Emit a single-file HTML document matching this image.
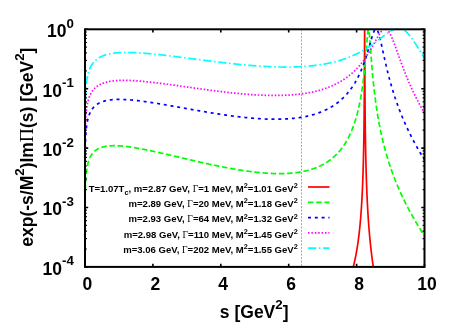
<!DOCTYPE html>
<html><head><meta charset="utf-8"><title>plot</title>
<style>
html,body{margin:0;padding:0;background:#fff;}
body{width:467px;height:327px;overflow:hidden;}
svg{display:block;will-change:transform;}
text{font-family:"Liberation Sans",sans-serif;font-weight:bold;fill:#000;}
.sym{font-family:"Liberation Serif",serif;font-weight:normal;}
</style></head><body>
<svg width="467" height="327" viewBox="0 0 467 327">
<rect x="0" y="0" width="467" height="327" fill="#ffffff"/>
<defs><clipPath id="cp"><rect x="85.00" y="29.30" width="339.50" height="237.60"/></clipPath></defs>
<line x1="301.5" y1="29.30" x2="301.5" y2="266.90" stroke="#a6a6a6" stroke-width="1" stroke-dasharray="2 1.4"/>
<g clip-path="url(#cp)" fill="none" stroke-width="1.7" stroke-linejoin="round">
<path d="M353.12 266.90 L353.35 266.52 L353.48 266.02 L353.60 265.52 L353.73 265.01 L353.86 264.50 L353.99 263.97 L354.11 263.44 L354.24 262.91 L354.37 262.36 L354.48 261.87 L354.59 261.37 L354.71 260.87 L354.82 260.35 L354.93 259.84 L355.05 259.31 L355.16 258.78 L355.27 258.24 L355.39 257.69 L355.50 257.14 L355.61 256.57 L355.73 256.00 L355.82 255.50 L355.92 254.98 L356.02 254.46 L356.12 253.94 L356.22 253.41 L356.32 252.86 L356.42 252.32 L356.52 251.76 L356.62 251.20 L356.72 250.63 L356.82 250.05 L356.91 249.46 L357.01 248.87 L357.10 248.35 L357.18 247.83 L357.27 247.30 L357.35 246.76 L357.44 246.21 L357.52 245.66 L357.61 245.10 L357.69 244.54 L357.78 243.96 L357.86 243.38 L357.95 242.79 L358.03 242.19 L358.12 241.59 L358.20 240.97 L358.29 240.35 L358.37 239.71 L358.44 239.18 L358.51 238.63 L358.58 238.09 L358.65 237.53 L358.73 236.97 L358.80 236.40 L358.87 235.82 L358.94 235.23 L359.01 234.64 L359.08 234.04 L359.15 233.43 L359.22 232.81 L359.29 232.18 L359.36 231.55 L359.43 230.90 L359.50 230.24 L359.57 229.58 L359.64 228.90 L359.70 228.36 L359.76 227.80 L359.81 227.24 L359.87 226.67 L359.93 226.10 L359.98 225.52 L360.04 224.92 L360.10 224.33 L360.15 223.72 L360.21 223.11 L360.27 222.48 L360.32 221.85 L360.38 221.21 L360.44 220.56 L360.49 219.90 L360.55 219.24 L360.61 218.56 L360.66 217.87 L360.72 217.17 L360.78 216.46 L360.83 215.74 L360.89 215.01 L360.95 214.27 L360.99 213.70 L361.03 213.13 L361.07 212.55 L361.12 211.96 L361.16 211.37 L361.20 210.77 L361.24 210.16 L361.29 209.54 L361.33 208.91 L361.37 208.28 L361.41 207.63 L361.46 206.98 L361.50 206.32 L361.54 205.65 L361.58 204.97 L361.63 204.28 L361.67 203.58 L361.71 202.87 L361.75 202.15 L361.80 201.42 L361.84 200.67 L361.88 199.92 L361.92 199.15 L361.96 198.37 L362.01 197.57 L362.05 196.77 L362.09 195.95 L362.13 195.11 L362.18 194.26 L362.21 193.69 L362.23 193.11 L362.26 192.52 L362.29 191.92 L362.32 191.32 L362.35 190.71 L362.38 190.09 L362.40 189.46 L362.43 188.83 L362.46 188.18 L362.49 187.53 L362.52 186.87 L362.55 186.20 L362.57 185.52 L362.60 184.83 L362.63 184.13 L362.66 183.43 L362.69 182.71 L362.71 181.98 L362.74 181.24 L362.77 180.48 L362.80 179.72 L362.83 178.94 L362.86 178.16 L362.88 177.35 L362.91 176.54 L362.94 175.71 L362.97 174.87 L363.00 174.01 L363.03 173.14 L363.05 172.25 L363.08 171.35 L363.11 170.43 L363.14 169.49 L363.17 168.53 L363.20 167.56 L363.22 166.56 L363.25 165.55 L363.28 164.51 L363.31 163.46 L363.34 162.38 L363.37 161.27 L363.39 160.14 L363.42 158.99 L363.44 158.40 L363.45 157.80 L363.46 157.20 L363.48 156.59 L363.49 155.98 L363.51 155.35 L363.52 154.72 L363.54 154.08 L363.55 153.43 L363.56 152.78 L363.58 152.11 L363.59 151.44 L363.61 150.75 L363.62 150.06 L363.63 149.36 L363.65 148.64 L363.66 147.92 L363.68 147.19 L363.69 146.45 L363.71 145.69 L363.72 144.92 L363.73 144.15 L363.75 143.36 L363.76 142.55 L363.78 141.74 L363.79 140.91 L363.80 140.07 L363.82 139.21 L363.83 138.34 L363.85 137.46 L363.86 136.56 L363.88 135.64 L363.89 134.70 L363.90 133.75 L363.92 132.78 L363.93 131.79 L363.95 130.79 L363.96 129.76 L363.97 128.71 L363.99 127.64 L364.00 126.55 L364.02 125.43 L364.03 124.29 L364.04 123.13 L364.06 121.93 L364.07 120.71 L364.09 119.46 L364.10 118.18 L364.12 116.87 L364.13 115.53 L364.14 114.14 L364.16 112.73 L364.17 111.27 L364.19 109.77 L364.20 108.23 L364.21 106.64 L364.23 105.01 L364.24 103.32 L364.26 101.58 L364.27 99.78 L364.29 97.92 L364.30 96.00 L364.31 94.00 L364.33 91.94 L364.34 89.79 L364.36 87.56 L364.37 85.25 L364.38 82.83 L364.40 80.32 L364.41 77.69 L364.43 74.96 L364.44 72.09 L364.46 69.11 L364.47 65.99 L364.48 62.73 L364.50 59.34 L364.51 55.82 L364.53 52.19 L364.54 48.49 L364.55 44.75 L364.57 41.08 L364.58 37.59 L364.60 34.46 L364.61 31.89 L364.62 30.11 L364.64 29.30 L364.67 30.87 L364.68 33.07 L364.70 35.96 L364.71 39.30 L364.72 42.91 L364.74 46.65 L364.75 50.40 L364.77 54.09 L364.78 57.69 L364.79 61.17 L364.81 64.52 L364.82 67.73 L364.84 70.81 L364.85 73.75 L364.87 76.58 L364.88 79.28 L364.89 81.87 L364.91 84.36 L364.92 86.75 L364.94 89.04 L364.95 91.25 L364.96 93.38 L364.98 95.43 L364.99 97.41 L365.01 99.32 L365.02 101.17 L365.04 102.96 L365.05 104.70 L365.06 106.38 L365.08 108.01 L365.09 109.60 L365.11 111.14 L365.12 112.64 L365.13 114.09 L365.15 115.51 L365.16 116.90 L365.18 118.25 L365.19 119.57 L365.20 120.85 L365.22 122.11 L365.23 123.33 L365.25 124.53 L365.26 125.71 L365.28 126.86 L365.29 127.98 L365.30 129.08 L365.32 130.16 L365.33 131.22 L365.35 132.26 L365.36 133.28 L365.37 134.28 L365.39 135.26 L365.40 136.22 L365.42 137.17 L365.43 138.10 L365.45 139.01 L365.46 139.91 L365.47 140.79 L365.49 141.66 L365.50 142.52 L365.52 143.36 L365.53 144.19 L365.54 145.01 L365.56 145.81 L365.57 146.60 L365.59 147.38 L365.60 148.15 L365.62 148.91 L365.63 149.66 L365.64 150.40 L365.66 151.12 L365.67 151.84 L365.69 152.55 L365.70 153.25 L365.71 153.94 L365.73 154.62 L365.74 155.29 L365.76 155.96 L365.77 156.61 L365.79 157.26 L365.80 157.90 L365.81 158.53 L365.83 159.16 L365.84 159.78 L365.86 160.39 L365.87 160.99 L365.88 161.59 L365.90 162.18 L365.93 163.35 L365.95 164.49 L365.98 165.60 L366.01 166.69 L366.04 167.76 L366.07 168.81 L366.10 169.84 L366.12 170.85 L366.15 171.85 L366.18 172.82 L366.21 173.78 L366.24 174.72 L366.27 175.64 L366.29 176.55 L366.32 177.44 L366.35 178.32 L366.38 179.19 L366.41 180.04 L366.44 180.88 L366.46 181.70 L366.49 182.51 L366.52 183.31 L366.55 184.10 L366.58 184.88 L366.61 185.65 L366.63 186.41 L366.66 187.15 L366.69 187.89 L366.72 188.62 L366.75 189.33 L366.78 190.04 L366.80 190.74 L366.83 191.43 L366.86 192.11 L366.89 192.78 L366.92 193.45 L366.95 194.10 L366.97 194.75 L367.00 195.40 L367.03 196.03 L367.06 196.66 L367.09 197.28 L367.11 197.89 L367.14 198.50 L367.17 199.10 L367.20 199.69 L367.23 200.28 L367.26 200.86 L367.28 201.43 L367.33 202.28 L367.37 203.12 L367.41 203.95 L367.45 204.76 L367.50 205.56 L367.54 206.35 L367.58 207.13 L367.62 207.90 L367.67 208.66 L367.71 209.41 L367.75 210.15 L367.79 210.88 L367.84 211.60 L367.88 212.31 L367.92 213.01 L367.96 213.70 L368.01 214.39 L368.05 215.06 L368.09 215.73 L368.13 216.39 L368.18 217.04 L368.22 217.69 L368.26 218.33 L368.30 218.96 L368.35 219.58 L368.39 220.20 L368.43 220.81 L368.47 221.42 L368.52 222.02 L368.56 222.61 L368.60 223.19 L368.64 223.77 L368.69 224.35 L368.73 224.92 L368.77 225.48 L368.81 226.04 L368.87 226.77 L368.93 227.50 L368.98 228.21 L369.04 228.92 L369.10 229.62 L369.15 230.31 L369.21 231.00 L369.27 231.67 L369.32 232.34 L369.38 233.00 L369.44 233.65 L369.49 234.30 L369.55 234.94 L369.61 235.57 L369.66 236.19 L369.72 236.81 L369.77 237.42 L369.83 238.03 L369.89 238.63 L369.94 239.22 L370.00 239.81 L370.06 240.39 L370.11 240.97 L370.17 241.54 L370.23 242.10 L370.28 242.66 L370.34 243.22 L370.40 243.77 L370.45 244.31 L370.52 244.99 L370.60 245.65 L370.67 246.31 L370.74 246.97 L370.81 247.61 L370.88 248.25 L370.95 248.88 L371.02 249.51 L371.09 250.13 L371.16 250.74 L371.23 251.35 L371.30 251.95 L371.37 252.54 L371.44 253.13 L371.52 253.71 L371.59 254.29 L371.66 254.87 L371.73 255.43 L371.80 256.00 L371.87 256.55 L371.94 257.11 L372.01 257.65 L372.08 258.20 L372.15 258.74 L372.22 259.27 L372.31 259.90 L372.39 260.53 L372.48 261.15 L372.56 261.77 L372.65 262.38 L372.73 262.98 L372.82 263.58 L372.90 264.18 L372.99 264.76 L373.07 265.35 L373.16 265.92 L373.24 266.49 L373.37 266.90" stroke="#ff0000"/>
<path d="M85.03 223.32 L85.05 214.40 L85.08 209.19 L85.10 205.49 L85.13 202.62 L85.15 200.28 L85.18 198.31 L85.20 196.60 L85.23 195.09 L85.26 193.74 L85.28 192.53 L85.31 191.42 L85.33 190.39 L85.36 189.45 L85.38 188.57 L85.41 187.75 L85.43 186.98 L85.46 186.26 L85.49 185.57 L85.51 184.92 L85.54 184.30 L85.56 183.72 L85.61 182.62 L85.66 181.61 L85.71 180.68 L85.77 179.81 L85.82 179.00 L85.87 178.24 L85.92 177.53 L85.97 176.85 L86.02 176.22 L86.07 175.61 L86.12 175.03 L86.17 174.48 L86.25 173.71 L86.33 172.97 L86.40 172.29 L86.48 171.64 L86.56 171.02 L86.63 170.44 L86.71 169.88 L86.79 169.35 L86.89 168.68 L86.99 168.05 L87.09 167.45 L87.20 166.89 L87.30 166.35 L87.40 165.83 L87.53 165.22 L87.65 164.65 L87.78 164.10 L87.91 163.58 L88.04 163.08 L88.19 162.52 L88.34 161.99 L88.50 161.48 L88.65 161.00 L88.80 160.54 L88.98 160.03 L89.16 159.54 L89.34 159.08 L89.52 158.64 L89.72 158.17 L89.93 157.72 L90.13 157.29 L90.34 156.88 L90.56 156.44 L90.79 156.02 L91.02 155.63 L91.25 155.25 L91.51 154.85 L91.76 154.47 L92.02 154.11 L92.30 153.73 L92.58 153.37 L92.86 153.03 L93.14 152.71 L93.45 152.37 L93.76 152.05 L94.06 151.75 L94.39 151.44 L94.73 151.14 L95.06 150.86 L95.80 150.28 L96.41 149.85 L97.02 149.45 L97.64 149.09 L98.25 148.76 L98.86 148.45 L99.47 148.17 L100.09 147.91 L100.70 147.68 L101.31 147.46 L101.92 147.26 L102.54 147.08 L103.15 146.91 L103.76 146.76 L104.37 146.62 L104.99 146.49 L105.60 146.38 L106.21 146.27 L106.83 146.18 L107.44 146.10 L108.05 146.02 L108.66 145.96 L109.28 145.90 L109.89 145.85 L110.50 145.81 L111.11 145.78 L111.73 145.75 L112.34 145.73 L112.95 145.72 L113.56 145.71 L114.18 145.70 L114.79 145.71 L115.40 145.71 L116.01 145.73 L116.63 145.74 L117.24 145.76 L117.85 145.79 L118.47 145.82 L119.08 145.86 L119.69 145.89 L120.30 145.94 L120.92 145.98 L121.53 146.03 L122.14 146.08 L122.75 146.14 L123.37 146.20 L123.98 146.26 L124.59 146.32 L125.20 146.39 L125.82 146.46 L126.43 146.53 L127.04 146.61 L127.65 146.68 L128.27 146.76 L128.88 146.84 L129.49 146.93 L130.11 147.01 L130.72 147.10 L131.33 147.19 L131.94 147.28 L132.56 147.38 L133.17 147.47 L133.78 147.57 L134.39 147.67 L135.01 147.77 L135.62 147.87 L136.23 147.98 L136.84 148.08 L137.46 148.19 L138.07 148.30 L138.68 148.41 L139.29 148.52 L139.91 148.63 L140.52 148.74 L141.13 148.86 L141.75 148.97 L142.36 149.09 L142.97 149.21 L143.58 149.33 L144.20 149.45 L144.81 149.57 L145.42 149.69 L146.03 149.81 L146.65 149.93 L147.26 150.06 L147.87 150.19 L148.48 150.31 L149.10 150.44 L149.71 150.57 L150.32 150.69 L150.93 150.82 L151.55 150.95 L152.16 151.09 L152.77 151.22 L153.38 151.35 L154.00 151.48 L154.61 151.61 L155.22 151.75 L155.84 151.88 L156.45 152.02 L157.06 152.15 L157.67 152.29 L158.29 152.43 L158.90 152.56 L159.51 152.70 L160.12 152.84 L160.74 152.98 L161.35 153.11 L161.96 153.25 L162.57 153.39 L163.19 153.53 L163.80 153.67 L164.41 153.81 L165.03 153.95 L165.64 154.09 L166.25 154.24 L166.86 154.38 L167.48 154.52 L168.09 154.66 L168.70 154.80 L169.31 154.95 L169.93 155.09 L170.54 155.23 L171.15 155.37 L171.76 155.52 L172.38 155.66 L172.99 155.80 L173.60 155.95 L174.21 156.09 L174.83 156.23 L175.44 156.38 L176.05 156.52 L176.67 156.67 L177.28 156.81 L177.89 156.95 L178.50 157.10 L179.12 157.24 L179.73 157.38 L180.34 157.53 L180.95 157.67 L181.57 157.82 L182.18 157.96 L182.79 158.10 L183.40 158.25 L184.02 158.39 L184.63 158.54 L185.24 158.68 L185.85 158.82 L186.47 158.97 L187.08 159.11 L187.69 159.25 L188.31 159.40 L188.92 159.54 L189.53 159.68 L190.14 159.82 L190.76 159.97 L191.37 160.11 L191.98 160.25 L192.59 160.39 L193.21 160.53 L193.82 160.68 L194.43 160.82 L195.04 160.96 L195.66 161.10 L196.27 161.24 L196.88 161.38 L197.49 161.52 L198.11 161.66 L198.72 161.80 L199.33 161.94 L199.94 162.08 L200.56 162.22 L201.17 162.35 L201.78 162.49 L202.40 162.63 L203.01 162.77 L203.62 162.90 L204.23 163.04 L204.85 163.17 L205.46 163.31 L206.07 163.45 L206.68 163.58 L207.30 163.71 L207.91 163.85 L208.52 163.98 L209.13 164.12 L209.75 164.25 L210.36 164.38 L210.97 164.51 L211.59 164.64 L212.20 164.77 L212.81 164.90 L213.42 165.03 L214.04 165.16 L214.65 165.29 L215.26 165.42 L215.87 165.55 L216.49 165.68 L217.10 165.80 L217.71 165.93 L218.32 166.05 L218.94 166.18 L219.55 166.30 L220.16 166.43 L220.77 166.55 L221.39 166.67 L222.00 166.79 L222.61 166.92 L223.23 167.04 L223.84 167.16 L224.45 167.27 L225.06 167.39 L225.68 167.51 L226.29 167.63 L226.90 167.74 L227.51 167.86 L228.13 167.98 L228.74 168.09 L229.35 168.20 L229.96 168.32 L230.58 168.43 L231.19 168.54 L231.80 168.65 L232.41 168.76 L233.03 168.87 L233.64 168.97 L234.25 169.08 L234.87 169.19 L235.48 169.29 L236.09 169.40 L236.70 169.50 L237.32 169.60 L237.93 169.71 L238.54 169.81 L239.15 169.91 L239.77 170.00 L240.38 170.10 L240.99 170.20 L241.60 170.30 L242.22 170.39 L242.83 170.48 L243.44 170.58 L244.05 170.67 L244.67 170.76 L245.28 170.85 L245.89 170.94 L246.51 171.03 L247.12 171.11 L247.73 171.20 L248.34 171.28 L248.96 171.36 L249.57 171.45 L250.18 171.53 L250.79 171.61 L251.41 171.68 L252.02 171.76 L252.63 171.84 L253.24 171.91 L253.86 171.98 L254.47 172.06 L255.08 172.13 L255.69 172.20 L256.31 172.26 L256.92 172.33 L257.53 172.40 L258.15 172.46 L258.76 172.52 L259.37 172.58 L259.98 172.64 L260.60 172.70 L261.21 172.76 L261.82 172.81 L262.43 172.86 L263.05 172.92 L263.66 172.97 L264.27 173.01 L264.88 173.06 L265.50 173.11 L266.11 173.15 L266.72 173.19 L267.33 173.23 L267.95 173.27 L268.56 173.31 L269.17 173.34 L269.79 173.38 L270.40 173.41 L271.01 173.44 L271.62 173.46 L272.24 173.49 L272.85 173.51 L273.46 173.53 L274.07 173.55 L274.69 173.57 L275.30 173.59 L275.91 173.60 L276.52 173.61 L277.14 173.62 L277.75 173.63 L278.36 173.63 L278.97 173.63 L279.59 173.63 L280.20 173.63 L280.81 173.63 L281.43 173.62 L282.04 173.61 L282.65 173.60 L283.26 173.59 L283.88 173.57 L284.49 173.55 L285.10 173.53 L285.71 173.50 L286.33 173.48 L286.94 173.45 L287.55 173.41 L288.16 173.38 L288.78 173.34 L289.39 173.30 L290.00 173.25 L290.61 173.21 L291.23 173.16 L291.84 173.10 L292.45 173.05 L293.07 172.99 L293.68 172.92 L294.29 172.86 L294.90 172.79 L295.52 172.71 L296.13 172.63 L296.74 172.55 L297.35 172.47 L297.97 172.38 L298.58 172.29 L299.19 172.20 L299.80 172.10 L300.42 171.99 L301.03 171.88 L301.64 171.77 L302.25 171.66 L302.87 171.54 L303.48 171.41 L304.09 171.28 L304.71 171.15 L305.32 171.01 L305.93 170.87 L306.54 170.72 L307.16 170.57 L307.77 170.41 L308.38 170.25 L308.99 170.08 L309.61 169.91 L310.22 169.73 L310.83 169.54 L311.44 169.35 L312.06 169.16 L312.67 168.96 L313.28 168.75 L313.89 168.53 L314.51 168.31 L315.12 168.09 L315.73 167.85 L316.35 167.61 L316.96 167.37 L317.57 167.11 L318.18 166.85 L318.80 166.58 L319.41 166.30 L320.02 166.02 L320.63 165.72 L321.25 165.42 L321.86 165.11 L322.47 164.79 L323.08 164.47 L323.70 164.13 L324.31 163.78 L324.92 163.43 L325.53 163.06 L326.15 162.68 L326.76 162.30 L327.37 161.90 L327.99 161.49 L328.60 161.07 L329.21 160.63 L329.82 160.19 L330.44 159.73 L331.05 159.26 L331.66 158.78 L332.27 158.28 L332.89 157.76 L333.50 157.23 L334.11 156.69 L334.72 156.13 L335.34 155.55 L335.95 154.96 L336.56 154.35 L337.17 153.72 L337.79 153.07 L338.40 152.40 L339.01 151.71 L339.62 150.99 L339.91 150.66 L340.19 150.32 L340.47 149.97 L340.74 149.63 L341.01 149.29 L341.28 148.95 L341.55 148.60 L341.82 148.25 L342.09 147.89 L342.36 147.53 L342.61 147.18 L342.86 146.82 L343.12 146.46 L343.37 146.10 L343.63 145.73 L343.88 145.35 L344.14 144.97 L344.38 144.61 L344.62 144.24 L344.86 143.86 L345.10 143.48 L345.34 143.10 L345.58 142.71 L345.82 142.31 L346.05 141.93 L346.27 141.55 L346.50 141.16 L346.73 140.77 L346.95 140.37 L347.18 139.96 L347.41 139.55 L347.62 139.16 L347.83 138.77 L348.04 138.37 L348.26 137.96 L348.47 137.55 L348.68 137.14 L348.89 136.71 L349.10 136.28 L349.30 135.88 L349.50 135.47 L349.70 135.05 L349.90 134.63 L350.09 134.21 L350.29 133.77 L350.49 133.34 L350.69 132.89 L350.87 132.47 L351.06 132.05 L351.24 131.62 L351.42 131.19 L351.61 130.75 L351.79 130.30 L351.98 129.85 L352.16 129.39 L352.34 128.92 L352.51 128.49 L352.68 128.05 L352.85 127.61 L353.02 127.15 L353.19 126.70 L353.36 126.23 L353.53 125.76 L353.70 125.29 L353.87 124.81 L354.03 124.36 L354.18 123.91 L354.34 123.45 L354.49 122.98 L354.65 122.51 L354.81 122.04 L354.96 121.55 L355.12 121.06 L355.27 120.57 L355.43 120.06 L355.57 119.60 L355.71 119.13 L355.85 118.66 L355.99 118.18 L356.14 117.69 L356.28 117.20 L356.42 116.70 L356.56 116.20 L356.70 115.68 L356.84 115.17 L356.97 114.69 L357.10 114.21 L357.23 113.73 L357.35 113.24 L357.48 112.74 L357.61 112.24 L357.73 111.73 L357.86 111.22 L357.99 110.69 L358.12 110.17 L358.24 109.63 L358.37 109.09 L358.48 108.60 L358.60 108.10 L358.71 107.60 L358.82 107.10 L358.94 106.58 L359.05 106.07 L359.16 105.54 L359.28 105.01 L359.39 104.47 L359.50 103.92 L359.62 103.37 L359.73 102.81 L359.84 102.24 L359.94 101.74 L360.04 101.23 L360.14 100.72 L360.24 100.20 L360.34 99.67 L360.44 99.14 L360.54 98.60 L360.64 98.05 L360.73 97.50 L360.83 96.94 L360.93 96.38 L361.03 95.80 L361.13 95.22 L361.23 94.63 L361.33 94.04 L361.41 93.52 L361.50 93.00 L361.58 92.47 L361.67 91.93 L361.75 91.39 L361.84 90.84 L361.92 90.29 L362.01 89.73 L362.09 89.16 L362.18 88.59 L362.26 88.01 L362.35 87.42 L362.43 86.83 L362.52 86.22 L362.60 85.61 L362.69 85.00 L362.77 84.37 L362.86 83.74 L362.93 83.21 L363.00 82.67 L363.07 82.12 L363.14 81.57 L363.21 81.01 L363.28 80.45 L363.35 79.88 L363.42 79.30 L363.49 78.72 L363.56 78.13 L363.63 77.54 L363.71 76.94 L363.78 76.33 L363.85 75.71 L363.92 75.09 L363.99 74.46 L364.06 73.82 L364.13 73.18 L364.20 72.53 L364.27 71.87 L364.34 71.20 L364.41 70.53 L364.47 69.98 L364.53 69.43 L364.58 68.88 L364.64 68.32 L364.70 67.75 L364.75 67.18 L364.81 66.61 L364.87 66.02 L364.92 65.44 L364.98 64.85 L365.04 64.25 L365.09 63.65 L365.15 63.04 L365.20 62.43 L365.26 61.81 L365.32 61.18 L365.37 60.55 L365.43 59.92 L365.49 59.28 L365.54 58.64 L365.60 57.99 L365.66 57.33 L365.71 56.67 L365.77 56.01 L365.83 55.34 L365.88 54.66 L365.94 53.98 L366.00 53.30 L366.05 52.61 L366.11 51.92 L366.17 51.23 L366.22 50.53 L366.28 49.83 L366.34 49.12 L366.39 48.42 L366.45 47.71 L366.51 47.00 L366.56 46.29 L366.62 45.58 L366.68 44.87 L366.73 44.16 L366.79 43.45 L366.85 42.75 L366.90 42.05 L366.96 41.35 L367.02 40.66 L367.07 39.98 L367.13 39.30 L367.19 38.63 L367.24 37.98 L367.30 37.33 L367.36 36.70 L367.41 36.08 L367.47 35.48 L367.53 34.89 L367.58 34.32 L367.64 33.78 L367.71 33.13 L367.78 32.52 L367.85 31.96 L367.94 31.34 L368.02 30.79 L368.12 30.25 L368.25 29.73 L368.44 29.32 L368.73 29.64 L368.86 30.13 L368.95 30.64 L369.04 31.18 L369.12 31.80 L369.19 32.37 L369.27 32.99 L369.34 33.65 L369.39 34.22 L369.45 34.80 L369.51 35.41 L369.56 36.04 L369.62 36.69 L369.68 37.36 L369.73 38.05 L369.79 38.75 L369.85 39.46 L369.90 40.18 L369.96 40.92 L370.02 41.66 L370.06 42.22 L370.10 42.79 L370.14 43.36 L370.19 43.93 L370.23 44.51 L370.27 45.09 L370.31 45.67 L370.35 46.25 L370.40 46.83 L370.44 47.41 L370.48 48.00 L370.52 48.58 L370.57 49.16 L370.61 49.75 L370.65 50.33 L370.69 50.91 L370.74 51.49 L370.78 52.07 L370.82 52.65 L370.86 53.23 L370.91 53.80 L370.95 54.37 L370.99 54.94 L371.03 55.51 L371.08 56.08 L371.12 56.65 L371.16 57.21 L371.20 57.77 L371.26 58.51 L371.32 59.25 L371.37 59.98 L371.43 60.71 L371.49 61.43 L371.54 62.15 L371.60 62.87 L371.66 63.57 L371.71 64.28 L371.77 64.97 L371.83 65.67 L371.88 66.35 L371.94 67.03 L372.00 67.71 L372.05 68.38 L372.11 69.05 L372.17 69.71 L372.22 70.36 L372.28 71.01 L372.34 71.66 L372.39 72.29 L372.45 72.93 L372.51 73.56 L372.56 74.18 L372.62 74.80 L372.68 75.41 L372.73 76.02 L372.79 76.62 L372.84 77.22 L372.90 77.82 L372.96 78.40 L373.01 78.99 L373.07 79.57 L373.13 80.14 L373.18 80.71 L373.24 81.28 L373.30 81.84 L373.35 82.40 L373.41 82.95 L373.47 83.50 L373.52 84.04 L373.59 84.71 L373.67 85.38 L373.74 86.04 L373.81 86.70 L373.88 87.35 L373.95 87.99 L374.02 88.62 L374.09 89.26 L374.16 89.88 L374.23 90.50 L374.30 91.11 L374.37 91.72 L374.44 92.32 L374.51 92.92 L374.59 93.51 L374.66 94.10 L374.73 94.68 L374.80 95.26 L374.87 95.83 L374.94 96.39 L375.01 96.96 L375.08 97.51 L375.15 98.07 L375.22 98.61 L375.29 99.16 L375.36 99.70 L375.43 100.23 L375.50 100.76 L375.59 101.39 L375.67 102.02 L375.76 102.64 L375.84 103.25 L375.93 103.86 L376.01 104.46 L376.10 105.06 L376.18 105.65 L376.27 106.23 L376.35 106.82 L376.44 107.39 L376.52 107.96 L376.61 108.53 L376.69 109.09 L376.78 109.65 L376.86 110.20 L376.95 110.75 L377.03 111.29 L377.12 111.83 L377.20 112.36 L377.29 112.89 L377.37 113.42 L377.46 113.94 L377.54 114.46 L377.64 115.06 L377.74 115.65 L377.84 116.24 L377.94 116.82 L378.04 117.40 L378.14 117.97 L378.24 118.54 L378.33 119.11 L378.43 119.66 L378.53 120.22 L378.63 120.77 L378.73 121.31 L378.83 121.86 L378.93 122.39 L379.03 122.92 L379.13 123.45 L379.23 123.98 L379.32 124.50 L379.42 125.01 L379.52 125.53 L379.62 126.04 L379.72 126.54 L379.82 127.04 L379.93 127.61 L380.05 128.17 L380.16 128.73 L380.27 129.29 L380.39 129.84 L380.50 130.38 L380.61 130.93 L380.73 131.46 L380.84 132.00 L380.95 132.52 L381.07 133.05 L381.18 133.57 L381.29 134.09 L381.40 134.60 L381.52 135.11 L381.63 135.62 L381.74 136.12 L381.86 136.62 L381.97 137.12 L382.08 137.61 L382.20 138.10 L382.32 138.64 L382.45 139.19 L382.58 139.72 L382.71 140.26 L382.83 140.79 L382.96 141.31 L383.09 141.83 L383.22 142.35 L383.34 142.87 L383.47 143.38 L383.60 143.89 L383.72 144.39 L383.85 144.89 L383.98 145.39 L384.11 145.88 L384.23 146.37 L384.36 146.86 L384.49 147.34 L384.62 147.82 L384.74 148.30 L384.87 148.78 L385.01 149.30 L385.15 149.82 L385.30 150.34 L385.44 150.85 L385.58 151.36 L385.72 151.87 L385.86 152.37 L386.00 152.87 L386.14 153.37 L386.29 153.86 L386.43 154.35 L386.57 154.84 L386.71 155.32 L386.85 155.80 L386.99 156.28 L387.13 156.75 L387.28 157.23 L387.42 157.69 L387.56 158.16 L387.70 158.62 L387.84 159.09 L388.00 159.59 L388.15 160.09 L388.31 160.59 L388.46 161.08 L388.62 161.57 L388.78 162.06 L388.93 162.55 L389.09 163.03 L389.24 163.51 L389.40 163.99 L389.55 164.46 L389.71 164.93 L389.87 165.40 L390.02 165.86 L390.18 166.33 L390.33 166.79 L390.49 167.25 L390.64 167.70 L390.80 168.15 L390.95 168.61 L391.11 169.05 L391.27 169.50 L391.44 169.98 L391.61 170.46 L391.78 170.94 L391.95 171.42 L392.11 171.89 L392.28 172.36 L392.45 172.83 L392.62 173.29 L392.79 173.75 L392.96 174.21 L393.13 174.67 L393.30 175.13 L393.47 175.58 L393.64 176.03 L393.81 176.48 L393.98 176.92 L394.15 177.37 L394.32 177.81 L394.49 178.25 L394.66 178.68 L394.83 179.12 L395.00 179.55 L395.17 179.98 L395.35 180.45 L395.54 180.91 L395.72 181.37 L395.91 181.82 L396.09 182.28 L396.27 182.73 L396.46 183.18 L396.64 183.63 L396.83 184.07 L397.01 184.52 L397.19 184.96 L397.38 185.40 L397.56 185.84 L397.75 186.27 L397.93 186.71 L398.11 187.14 L398.30 187.57 L398.48 187.99 L398.67 188.42 L398.85 188.84 L399.03 189.27 L399.22 189.69 L399.40 190.10 L399.59 190.52 L399.78 190.97 L399.98 191.41 L400.18 191.85 L400.38 192.29 L400.58 192.73 L400.77 193.17 L400.97 193.60 L401.17 194.03 L401.37 194.47 L401.57 194.89 L401.76 195.32 L401.96 195.75 L402.16 196.17 L402.36 196.59 L402.56 197.01 L402.75 197.43 L402.95 197.85 L403.15 198.26 L403.35 198.67 L403.55 199.08 L403.74 199.49 L403.94 199.90 L404.14 200.31 L404.34 200.71 L404.54 201.12 L404.75 201.55 L404.96 201.98 L405.17 202.40 L405.39 202.83 L405.60 203.25 L405.81 203.68 L406.02 204.10 L406.23 204.51 L406.45 204.93 L406.66 205.35 L406.87 205.76 L407.08 206.17 L407.30 206.58 L407.51 206.99 L407.72 207.40 L407.93 207.81 L408.14 208.21 L408.36 208.62 L408.57 209.02 L408.78 209.42 L408.99 209.82 L409.21 210.21 L409.42 210.61 L409.63 211.01 L409.84 211.40 L410.05 211.79 L410.27 212.18 L410.48 212.57 L410.69 212.96 L410.92 213.37 L411.14 213.78 L411.37 214.19 L411.60 214.60 L411.82 215.01 L412.05 215.41 L412.28 215.82 L412.50 216.22 L412.73 216.62 L412.96 217.02 L413.18 217.42 L413.41 217.82 L413.63 218.21 L413.86 218.61 L414.09 219.00 L414.31 219.39 L414.54 219.79 L414.77 220.17 L414.99 220.56 L415.22 220.95 L415.45 221.34 L415.67 221.72 L415.90 222.11 L416.12 222.49 L416.35 222.87 L416.58 223.25 L416.80 223.63 L417.03 224.01 L417.26 224.38 L417.48 224.76 L417.71 225.13 L417.94 225.51 L418.18 225.90 L418.42 226.30 L418.66 226.69 L418.90 227.08 L419.14 227.48 L419.38 227.87 L419.62 228.25 L419.86 228.64 L420.10 229.03 L420.34 229.41 L420.58 229.80 L420.82 230.18 L421.06 230.56 L421.30 230.94 L421.54 231.32 L421.78 231.70 L422.02 232.08 L422.26 232.46 L422.51 232.83 L422.75 233.21 L422.99 233.58 L423.23 233.96 L423.47 234.33 L423.71 234.70 L423.95 235.07 L424.19 235.44 L424.43 235.81 L424.50 235.91" stroke="#00ff00" stroke-dasharray="5.5 2.7"/>
<path d="M85.00 264.42 L85.03 178.99 L85.05 170.07 L85.08 164.85 L85.10 161.15 L85.13 158.29 L85.15 155.95 L85.18 153.97 L85.20 152.26 L85.23 150.75 L85.26 149.40 L85.28 148.18 L85.31 147.07 L85.33 146.05 L85.36 145.10 L85.38 144.22 L85.41 143.40 L85.43 142.63 L85.46 141.90 L85.49 141.21 L85.51 140.56 L85.54 139.94 L85.56 139.35 L85.61 138.25 L85.66 137.24 L85.71 136.30 L85.77 135.43 L85.82 134.62 L85.87 133.86 L85.92 133.14 L85.97 132.47 L86.02 131.83 L86.07 131.22 L86.12 130.64 L86.17 130.08 L86.25 129.30 L86.33 128.56 L86.40 127.87 L86.48 127.22 L86.56 126.60 L86.63 126.01 L86.71 125.45 L86.79 124.91 L86.89 124.24 L86.99 123.60 L87.09 122.99 L87.20 122.42 L87.30 121.88 L87.40 121.35 L87.53 120.74 L87.65 120.15 L87.78 119.60 L87.91 119.07 L88.04 118.57 L88.17 118.09 L88.32 117.54 L88.47 117.02 L88.62 116.52 L88.78 116.05 L88.93 115.60 L89.11 115.09 L89.29 114.62 L89.47 114.16 L89.65 113.73 L89.85 113.25 L90.05 112.80 L90.26 112.37 L90.46 111.96 L90.69 111.52 L90.92 111.10 L91.15 110.70 L91.38 110.32 L91.64 109.91 L91.89 109.53 L92.15 109.16 L92.40 108.81 L92.68 108.44 L92.96 108.09 L93.25 107.75 L93.53 107.43 L93.83 107.10 L94.14 106.78 L94.44 106.47 L94.78 106.16 L95.11 105.86 L95.80 105.28 L96.41 104.81 L97.02 104.37 L97.64 103.97 L98.25 103.60 L98.86 103.26 L99.47 102.94 L100.09 102.64 L100.70 102.37 L101.31 102.11 L101.92 101.88 L102.54 101.66 L103.15 101.45 L103.76 101.26 L104.37 101.08 L104.99 100.92 L105.60 100.77 L106.21 100.63 L106.83 100.49 L107.44 100.37 L108.05 100.26 L108.66 100.16 L109.28 100.06 L109.89 99.98 L110.50 99.90 L111.11 99.83 L111.73 99.76 L112.34 99.70 L112.95 99.65 L113.56 99.61 L114.18 99.56 L114.79 99.53 L115.40 99.50 L116.01 99.47 L116.63 99.45 L117.24 99.44 L117.85 99.43 L118.47 99.42 L119.08 99.42 L119.69 99.42 L120.30 99.42 L120.92 99.43 L121.53 99.44 L122.14 99.46 L122.75 99.47 L123.37 99.49 L123.98 99.52 L124.59 99.55 L125.20 99.58 L125.82 99.61 L126.43 99.64 L127.04 99.68 L127.65 99.72 L128.27 99.76 L128.88 99.81 L129.49 99.85 L130.11 99.90 L130.72 99.95 L131.33 100.01 L131.94 100.06 L132.56 100.12 L133.17 100.18 L133.78 100.24 L134.39 100.30 L135.01 100.36 L135.62 100.43 L136.23 100.49 L136.84 100.56 L137.46 100.63 L138.07 100.70 L138.68 100.78 L139.29 100.85 L139.91 100.93 L140.52 101.00 L141.13 101.08 L141.75 101.16 L142.36 101.24 L142.97 101.32 L143.58 101.40 L144.20 101.49 L144.81 101.57 L145.42 101.66 L146.03 101.74 L146.65 101.83 L147.26 101.92 L147.87 102.01 L148.48 102.10 L149.10 102.19 L149.71 102.28 L150.32 102.37 L150.93 102.46 L151.55 102.56 L152.16 102.65 L152.77 102.75 L153.38 102.84 L154.00 102.94 L154.61 103.04 L155.22 103.14 L155.84 103.23 L156.45 103.33 L157.06 103.43 L157.67 103.53 L158.29 103.63 L158.90 103.73 L159.51 103.84 L160.12 103.94 L160.74 104.04 L161.35 104.14 L161.96 104.25 L162.57 104.35 L163.19 104.45 L163.80 104.56 L164.41 104.66 L165.03 104.77 L165.64 104.87 L166.25 104.98 L166.86 105.08 L167.48 105.19 L168.09 105.30 L168.70 105.40 L169.31 105.51 L169.93 105.62 L170.54 105.73 L171.15 105.83 L171.76 105.94 L172.38 106.05 L172.99 106.16 L173.60 106.27 L174.21 106.37 L174.83 106.48 L175.44 106.59 L176.05 106.70 L176.67 106.81 L177.28 106.92 L177.89 107.03 L178.50 107.14 L179.12 107.25 L179.73 107.36 L180.34 107.47 L180.95 107.58 L181.57 107.68 L182.18 107.79 L182.79 107.90 L183.40 108.01 L184.02 108.12 L184.63 108.23 L185.24 108.34 L185.85 108.45 L186.47 108.56 L187.08 108.67 L187.69 108.78 L188.31 108.89 L188.92 109.00 L189.53 109.11 L190.14 109.21 L190.76 109.32 L191.37 109.43 L191.98 109.54 L192.59 109.65 L193.21 109.76 L193.82 109.86 L194.43 109.97 L195.04 110.08 L195.66 110.19 L196.27 110.29 L196.88 110.40 L197.49 110.51 L198.11 110.61 L198.72 110.72 L199.33 110.83 L199.94 110.93 L200.56 111.04 L201.17 111.14 L201.78 111.25 L202.40 111.35 L203.01 111.46 L203.62 111.56 L204.23 111.67 L204.85 111.77 L205.46 111.87 L206.07 111.98 L206.68 112.08 L207.30 112.18 L207.91 112.28 L208.52 112.38 L209.13 112.49 L209.75 112.59 L210.36 112.69 L210.97 112.79 L211.59 112.89 L212.20 112.99 L212.81 113.09 L213.42 113.18 L214.04 113.28 L214.65 113.38 L215.26 113.48 L215.87 113.57 L216.49 113.67 L217.10 113.76 L217.71 113.86 L218.32 113.95 L218.94 114.05 L219.55 114.14 L220.16 114.24 L220.77 114.33 L221.39 114.42 L222.00 114.51 L222.61 114.60 L223.23 114.69 L223.84 114.78 L224.45 114.87 L225.06 114.96 L225.68 115.05 L226.29 115.14 L226.90 115.22 L227.51 115.31 L228.13 115.40 L228.74 115.48 L229.35 115.57 L229.96 115.65 L230.58 115.73 L231.19 115.81 L231.80 115.90 L232.41 115.98 L233.03 116.06 L233.64 116.14 L234.25 116.22 L234.87 116.29 L235.48 116.37 L236.09 116.45 L236.70 116.52 L237.32 116.60 L237.93 116.67 L238.54 116.75 L239.15 116.82 L239.77 116.89 L240.38 116.96 L240.99 117.03 L241.60 117.10 L242.22 117.17 L242.83 117.24 L243.44 117.31 L244.05 117.37 L244.67 117.44 L245.28 117.50 L245.89 117.56 L246.51 117.63 L247.12 117.69 L247.73 117.75 L248.34 117.81 L248.96 117.86 L249.57 117.92 L250.18 117.98 L250.79 118.03 L251.41 118.09 L252.02 118.14 L252.63 118.19 L253.24 118.24 L253.86 118.29 L254.47 118.34 L255.08 118.39 L255.69 118.44 L256.31 118.48 L256.92 118.53 L257.53 118.57 L258.15 118.61 L258.76 118.65 L259.37 118.69 L259.98 118.73 L260.60 118.77 L261.21 118.80 L261.82 118.84 L262.43 118.87 L263.05 118.90 L263.66 118.93 L264.27 118.96 L264.88 118.99 L265.50 119.01 L266.11 119.04 L266.72 119.06 L267.33 119.08 L267.95 119.10 L268.56 119.12 L269.17 119.14 L269.79 119.16 L270.40 119.17 L271.01 119.18 L271.62 119.20 L272.24 119.20 L272.85 119.21 L273.46 119.22 L274.07 119.22 L274.69 119.23 L275.30 119.23 L275.91 119.23 L276.52 119.23 L277.14 119.22 L277.75 119.22 L278.36 119.21 L278.97 119.20 L279.59 119.19 L280.20 119.17 L280.81 119.16 L281.43 119.14 L282.04 119.12 L282.65 119.10 L283.26 119.08 L283.88 119.05 L284.49 119.02 L285.10 119.00 L285.71 118.96 L286.33 118.93 L286.94 118.89 L287.55 118.85 L288.16 118.81 L288.78 118.77 L289.39 118.73 L290.00 118.68 L290.61 118.63 L291.23 118.57 L291.84 118.52 L292.45 118.46 L293.07 118.40 L293.68 118.34 L294.29 118.27 L294.90 118.20 L295.52 118.13 L296.13 118.06 L296.74 117.98 L297.35 117.90 L297.97 117.82 L298.58 117.73 L299.19 117.65 L299.80 117.55 L300.42 117.46 L301.03 117.36 L301.64 117.26 L302.25 117.15 L302.87 117.05 L303.48 116.94 L304.09 116.82 L304.71 116.70 L305.32 116.58 L305.93 116.46 L306.54 116.33 L307.16 116.19 L307.77 116.06 L308.38 115.92 L308.99 115.77 L309.61 115.62 L310.22 115.47 L310.83 115.31 L311.44 115.15 L312.06 114.98 L312.67 114.81 L313.28 114.64 L313.89 114.46 L314.51 114.28 L315.12 114.09 L315.73 113.89 L316.35 113.69 L316.96 113.49 L317.57 113.28 L318.18 113.07 L318.80 112.85 L319.41 112.62 L320.02 112.39 L320.63 112.15 L321.25 111.91 L321.86 111.66 L322.47 111.41 L323.08 111.15 L323.70 110.88 L324.31 110.60 L324.92 110.32 L325.53 110.04 L326.15 109.74 L326.76 109.44 L327.37 109.13 L327.99 108.81 L328.60 108.49 L329.21 108.15 L329.82 107.81 L330.44 107.46 L331.05 107.10 L331.66 106.74 L332.27 106.36 L332.89 105.98 L333.50 105.58 L334.11 105.18 L334.72 104.76 L335.34 104.34 L335.95 103.90 L336.56 103.46 L337.17 103.00 L337.79 102.53 L338.40 102.05 L339.01 101.56 L339.62 101.05 L339.96 100.76 L340.29 100.49 L340.62 100.20 L340.94 99.92 L341.27 99.63 L341.59 99.34 L341.92 99.04 L342.24 98.74 L342.55 98.44 L342.86 98.15 L343.18 97.85 L343.49 97.54 L343.80 97.23 L344.11 96.92 L344.42 96.60 L344.72 96.30 L345.02 95.99 L345.31 95.67 L345.61 95.35 L345.91 95.03 L346.20 94.70 L346.50 94.37 L346.78 94.05 L347.07 93.73 L347.35 93.40 L347.63 93.07 L347.92 92.73 L348.20 92.39 L348.48 92.04 L348.75 91.71 L349.02 91.37 L349.29 91.03 L349.56 90.69 L349.83 90.34 L350.09 89.98 L350.36 89.63 L350.63 89.26 L350.89 88.91 L351.14 88.56 L351.40 88.20 L351.65 87.84 L351.91 87.48 L352.16 87.11 L352.41 86.73 L352.67 86.35 L352.91 85.99 L353.15 85.62 L353.39 85.25 L353.63 84.87 L353.87 84.49 L354.11 84.11 L354.35 83.72 L354.59 83.32 L354.82 82.95 L355.05 82.57 L355.27 82.18 L355.50 81.79 L355.73 81.40 L355.95 81.00 L356.18 80.59 L356.40 80.19 L356.63 79.77 L356.84 79.38 L357.06 78.98 L357.27 78.58 L357.48 78.18 L357.69 77.77 L357.90 77.35 L358.12 76.93 L358.33 76.51 L358.54 76.08 L358.74 75.67 L358.94 75.26 L359.14 74.85 L359.33 74.43 L359.53 74.01 L359.73 73.58 L359.93 73.15 L360.13 72.71 L360.32 72.27 L360.52 71.82 L360.71 71.40 L360.89 70.98 L361.07 70.55 L361.26 70.11 L361.44 69.68 L361.63 69.23 L361.81 68.79 L361.99 68.34 L362.18 67.88 L362.36 67.42 L362.55 66.95 L362.71 66.52 L362.88 66.08 L363.05 65.64 L363.22 65.19 L363.39 64.74 L363.56 64.28 L363.73 63.82 L363.90 63.36 L364.07 62.89 L364.24 62.42 L364.41 61.94 L364.58 61.46 L364.74 61.01 L364.89 60.56 L365.05 60.11 L365.20 59.65 L365.36 59.19 L365.52 58.72 L365.67 58.25 L365.83 57.78 L365.98 57.30 L366.14 56.82 L366.29 56.34 L366.45 55.85 L366.61 55.36 L366.76 54.86 L366.92 54.36 L367.07 53.86 L367.21 53.40 L367.36 52.93 L367.50 52.47 L367.64 52.00 L367.78 51.53 L367.92 51.05 L368.06 50.57 L368.20 50.10 L368.35 49.61 L368.49 49.13 L368.63 48.64 L368.77 48.16 L368.91 47.67 L369.05 47.17 L369.19 46.68 L369.34 46.19 L369.48 45.69 L369.62 45.19 L369.76 44.70 L369.90 44.20 L370.04 43.70 L370.19 43.20 L370.33 42.70 L370.47 42.21 L370.61 41.71 L370.75 41.22 L370.89 40.72 L371.03 40.23 L371.18 39.74 L371.32 39.26 L371.46 38.78 L371.60 38.30 L371.74 37.83 L371.88 37.36 L372.02 36.90 L372.18 36.39 L372.34 35.90 L372.49 35.42 L372.65 34.94 L372.80 34.48 L372.96 34.03 L373.13 33.56 L373.30 33.10 L373.47 32.66 L373.65 32.20 L373.84 31.77 L374.03 31.34 L374.25 30.91 L374.47 30.50 L374.71 30.12 L374.98 29.76 L375.29 29.45 L375.67 29.22 L376.28 29.23 L376.65 29.47 L376.95 29.78 L377.20 30.13 L377.43 30.52 L377.64 30.93 L377.84 31.36 L378.02 31.80 L378.19 32.24 L378.36 32.70 L378.52 33.15 L378.67 33.63 L378.83 34.12 L378.97 34.59 L379.11 35.07 L379.25 35.57 L379.40 36.08 L379.54 36.60 L379.66 37.09 L379.79 37.58 L379.92 38.08 L380.05 38.59 L380.17 39.11 L380.30 39.63 L380.43 40.16 L380.56 40.70 L380.68 41.24 L380.80 41.73 L380.91 42.22 L381.02 42.72 L381.14 43.22 L381.25 43.72 L381.36 44.22 L381.48 44.73 L381.59 45.24 L381.70 45.75 L381.81 46.26 L381.93 46.77 L382.04 47.29 L382.15 47.81 L382.27 48.32 L382.38 48.84 L382.49 49.36 L382.61 49.88 L382.72 50.40 L382.83 50.92 L382.95 51.43 L383.06 51.95 L383.17 52.47 L383.29 52.99 L383.40 53.51 L383.51 54.02 L383.63 54.54 L383.74 55.05 L383.85 55.57 L383.97 56.08 L384.08 56.59 L384.19 57.10 L384.30 57.61 L384.42 58.12 L384.53 58.62 L384.64 59.13 L384.76 59.63 L384.87 60.13 L384.98 60.63 L385.10 61.13 L385.21 61.63 L385.32 62.12 L385.44 62.61 L385.55 63.11 L385.66 63.59 L385.78 64.08 L385.90 64.63 L386.03 65.17 L386.16 65.71 L386.29 66.25 L386.41 66.79 L386.54 67.32 L386.67 67.85 L386.80 68.38 L386.92 68.91 L387.05 69.43 L387.18 69.95 L387.30 70.47 L387.43 70.98 L387.56 71.50 L387.69 72.01 L387.81 72.52 L387.94 73.02 L388.07 73.52 L388.20 74.02 L388.32 74.52 L388.45 75.02 L388.58 75.51 L388.71 76.00 L388.83 76.49 L388.96 76.97 L389.09 77.46 L389.21 77.94 L389.34 78.41 L389.47 78.89 L389.60 79.36 L389.74 79.88 L389.88 80.40 L390.02 80.92 L390.16 81.43 L390.30 81.94 L390.45 82.45 L390.59 82.96 L390.73 83.46 L390.87 83.96 L391.01 84.45 L391.15 84.95 L391.29 85.44 L391.44 85.93 L391.58 86.41 L391.72 86.90 L391.86 87.38 L392.00 87.85 L392.14 88.33 L392.28 88.80 L392.43 89.27 L392.57 89.74 L392.71 90.20 L392.85 90.67 L392.99 91.13 L393.15 91.63 L393.30 92.13 L393.46 92.63 L393.61 93.12 L393.77 93.61 L393.93 94.10 L394.08 94.59 L394.24 95.07 L394.39 95.55 L394.55 96.03 L394.70 96.51 L394.86 96.98 L395.02 97.45 L395.17 97.92 L395.33 98.38 L395.48 98.85 L395.64 99.31 L395.79 99.76 L395.95 100.22 L396.10 100.67 L396.26 101.12 L396.42 101.57 L396.57 102.02 L396.74 102.50 L396.91 102.98 L397.08 103.46 L397.25 103.94 L397.42 104.41 L397.59 104.88 L397.76 105.35 L397.93 105.82 L398.10 106.28 L398.27 106.74 L398.44 107.20 L398.61 107.66 L398.78 108.11 L398.95 108.56 L399.12 109.01 L399.29 109.46 L399.46 109.90 L399.63 110.35 L399.80 110.79 L399.97 111.22 L400.14 111.66 L400.31 112.09 L400.48 112.53 L400.66 112.99 L400.84 113.45 L401.03 113.92 L401.21 114.37 L401.40 114.83 L401.58 115.28 L401.76 115.73 L401.95 116.18 L402.13 116.63 L402.32 117.07 L402.50 117.52 L402.68 117.96 L402.87 118.40 L403.05 118.83 L403.24 119.27 L403.42 119.70 L403.60 120.13 L403.79 120.56 L403.97 120.98 L404.15 121.41 L404.34 121.83 L404.52 122.25 L404.71 122.67 L404.89 123.08 L405.09 123.53 L405.29 123.97 L405.48 124.42 L405.68 124.86 L405.88 125.30 L406.08 125.73 L406.28 126.17 L406.48 126.60 L406.67 127.03 L406.87 127.46 L407.07 127.88 L407.27 128.31 L407.47 128.73 L407.66 129.15 L407.86 129.57 L408.06 129.99 L408.26 130.40 L408.46 130.82 L408.65 131.23 L408.85 131.64 L409.05 132.05 L409.25 132.45 L409.45 132.86 L409.64 133.26 L409.86 133.69 L410.07 134.12 L410.28 134.55 L410.49 134.97 L410.71 135.39 L410.92 135.82 L411.13 136.24 L411.34 136.65 L411.55 137.07 L411.77 137.48 L411.98 137.90 L412.19 138.31 L412.40 138.72 L412.62 139.13 L412.83 139.53 L413.04 139.94 L413.25 140.34 L413.46 140.74 L413.68 141.14 L413.89 141.54 L414.10 141.94 L414.31 142.33 L414.53 142.72 L414.74 143.12 L414.95 143.51 L415.16 143.90 L415.37 144.29 L415.60 144.70 L415.83 145.11 L416.05 145.52 L416.28 145.93 L416.51 146.33 L416.73 146.74 L416.96 147.14 L417.19 147.54 L417.41 147.94 L417.64 148.34 L417.86 148.74 L418.09 149.13 L418.32 149.53 L418.54 149.92 L418.77 150.31 L419.00 150.70 L419.22 151.09 L419.45 151.48 L419.68 151.87 L419.90 152.25 L420.13 152.64 L420.35 153.02 L420.58 153.40 L420.81 153.78 L421.03 154.16 L421.26 154.54 L421.49 154.91 L421.71 155.29 L421.94 155.66 L422.18 156.06 L422.42 156.45 L422.66 156.84 L422.90 157.24 L423.14 157.63 L423.38 158.02 L423.62 158.40 L423.86 158.79 L424.10 159.18 L424.34 159.56 L424.50 159.81" stroke="#0000ff" stroke-dasharray="3.0 3.8"/>
<path d="M85.00 246.93 L85.03 161.50 L85.05 152.58 L85.08 147.36 L85.10 143.66 L85.13 140.79 L85.15 138.45 L85.18 136.47 L85.20 134.76 L85.23 133.25 L85.26 131.90 L85.28 130.68 L85.31 129.56 L85.33 128.54 L85.36 127.59 L85.38 126.71 L85.41 125.89 L85.43 125.12 L85.46 124.39 L85.49 123.70 L85.51 123.05 L85.54 122.43 L85.56 121.84 L85.61 120.73 L85.66 119.72 L85.71 118.78 L85.77 117.91 L85.82 117.10 L85.87 116.33 L85.92 115.61 L85.97 114.93 L86.02 114.29 L86.07 113.68 L86.12 113.10 L86.17 112.54 L86.25 111.75 L86.33 111.01 L86.40 110.32 L86.48 109.66 L86.56 109.04 L86.63 108.45 L86.71 107.88 L86.79 107.34 L86.89 106.66 L86.99 106.02 L87.09 105.41 L87.20 104.83 L87.30 104.28 L87.40 103.76 L87.50 103.26 L87.63 102.66 L87.76 102.09 L87.88 101.56 L88.01 101.04 L88.14 100.55 L88.29 99.99 L88.45 99.46 L88.60 98.95 L88.75 98.47 L88.91 98.01 L89.08 97.49 L89.26 97.01 L89.44 96.54 L89.62 96.09 L89.80 95.67 L90.00 95.20 L90.21 94.76 L90.41 94.33 L90.62 93.93 L90.85 93.49 L91.08 93.08 L91.31 92.68 L91.53 92.30 L91.79 91.89 L92.05 91.51 L92.30 91.14 L92.56 90.78 L92.84 90.41 L93.12 90.06 L93.40 89.72 L93.68 89.39 L93.99 89.05 L94.29 88.72 L94.60 88.41 L94.90 88.12 L95.80 87.31 L96.41 86.82 L97.02 86.36 L97.64 85.93 L98.25 85.53 L98.86 85.16 L99.47 84.82 L100.09 84.49 L100.70 84.19 L101.31 83.91 L101.92 83.65 L102.54 83.40 L103.15 83.17 L103.76 82.95 L104.37 82.75 L104.99 82.56 L105.60 82.38 L106.21 82.21 L106.83 82.05 L107.44 81.91 L108.05 81.77 L108.66 81.64 L109.28 81.52 L109.89 81.40 L110.50 81.30 L111.11 81.20 L111.73 81.11 L112.34 81.03 L112.95 80.95 L113.56 80.87 L114.18 80.81 L114.79 80.75 L115.40 80.69 L116.01 80.64 L116.63 80.59 L117.24 80.55 L117.85 80.51 L118.47 80.48 L119.08 80.45 L119.69 80.43 L120.30 80.40 L120.92 80.39 L121.53 80.37 L122.14 80.36 L122.75 80.35 L123.37 80.35 L123.98 80.35 L124.59 80.35 L125.20 80.35 L125.82 80.36 L126.43 80.37 L127.04 80.38 L127.65 80.39 L128.27 80.41 L128.88 80.43 L129.49 80.45 L130.11 80.47 L130.72 80.50 L131.33 80.53 L131.94 80.56 L132.56 80.59 L133.17 80.62 L133.78 80.65 L134.39 80.69 L135.01 80.73 L135.62 80.77 L136.23 80.81 L136.84 80.85 L137.46 80.90 L138.07 80.95 L138.68 80.99 L139.29 81.04 L139.91 81.09 L140.52 81.14 L141.13 81.20 L141.75 81.25 L142.36 81.30 L142.97 81.36 L143.58 81.42 L144.20 81.48 L144.81 81.54 L145.42 81.60 L146.03 81.66 L146.65 81.72 L147.26 81.78 L147.87 81.85 L148.48 81.91 L149.10 81.98 L149.71 82.05 L150.32 82.11 L150.93 82.18 L151.55 82.25 L152.16 82.32 L152.77 82.39 L153.38 82.46 L154.00 82.54 L154.61 82.61 L155.22 82.68 L155.84 82.76 L156.45 82.83 L157.06 82.91 L157.67 82.98 L158.29 83.06 L158.90 83.14 L159.51 83.21 L160.12 83.29 L160.74 83.37 L161.35 83.45 L161.96 83.53 L162.57 83.61 L163.19 83.69 L163.80 83.77 L164.41 83.85 L165.03 83.93 L165.64 84.01 L166.25 84.09 L166.86 84.18 L167.48 84.26 L168.09 84.34 L168.70 84.43 L169.31 84.51 L169.93 84.59 L170.54 84.68 L171.15 84.76 L171.76 84.85 L172.38 84.93 L172.99 85.02 L173.60 85.10 L174.21 85.19 L174.83 85.27 L175.44 85.36 L176.05 85.44 L176.67 85.53 L177.28 85.62 L177.89 85.70 L178.50 85.79 L179.12 85.88 L179.73 85.96 L180.34 86.05 L180.95 86.14 L181.57 86.22 L182.18 86.31 L182.79 86.40 L183.40 86.48 L184.02 86.57 L184.63 86.66 L185.24 86.75 L185.85 86.83 L186.47 86.92 L187.08 87.01 L187.69 87.09 L188.31 87.18 L188.92 87.27 L189.53 87.36 L190.14 87.44 L190.76 87.53 L191.37 87.62 L191.98 87.70 L192.59 87.79 L193.21 87.88 L193.82 87.96 L194.43 88.05 L195.04 88.14 L195.66 88.22 L196.27 88.31 L196.88 88.39 L197.49 88.48 L198.11 88.56 L198.72 88.65 L199.33 88.74 L199.94 88.82 L200.56 88.91 L201.17 88.99 L201.78 89.07 L202.40 89.16 L203.01 89.24 L203.62 89.33 L204.23 89.41 L204.85 89.49 L205.46 89.58 L206.07 89.66 L206.68 89.74 L207.30 89.83 L207.91 89.91 L208.52 89.99 L209.13 90.07 L209.75 90.15 L210.36 90.23 L210.97 90.31 L211.59 90.39 L212.20 90.47 L212.81 90.55 L213.42 90.63 L214.04 90.71 L214.65 90.79 L215.26 90.87 L215.87 90.95 L216.49 91.02 L217.10 91.10 L217.71 91.18 L218.32 91.25 L218.94 91.33 L219.55 91.41 L220.16 91.48 L220.77 91.55 L221.39 91.63 L222.00 91.70 L222.61 91.78 L223.23 91.85 L223.84 91.92 L224.45 91.99 L225.06 92.06 L225.68 92.14 L226.29 92.21 L226.90 92.28 L227.51 92.35 L228.13 92.41 L228.74 92.48 L229.35 92.55 L229.96 92.62 L230.58 92.69 L231.19 92.75 L231.80 92.82 L232.41 92.88 L233.03 92.95 L233.64 93.01 L234.25 93.07 L234.87 93.14 L235.48 93.20 L236.09 93.26 L236.70 93.32 L237.32 93.38 L237.93 93.44 L238.54 93.50 L239.15 93.56 L239.77 93.62 L240.38 93.67 L240.99 93.73 L241.60 93.78 L242.22 93.84 L242.83 93.89 L243.44 93.95 L244.05 94.00 L244.67 94.05 L245.28 94.10 L245.89 94.15 L246.51 94.20 L247.12 94.25 L247.73 94.30 L248.34 94.35 L248.96 94.39 L249.57 94.44 L250.18 94.48 L250.79 94.53 L251.41 94.57 L252.02 94.61 L252.63 94.65 L253.24 94.69 L253.86 94.73 L254.47 94.77 L255.08 94.81 L255.69 94.84 L256.31 94.88 L256.92 94.91 L257.53 94.95 L258.15 94.98 L258.76 95.01 L259.37 95.04 L259.98 95.07 L260.60 95.10 L261.21 95.13 L261.82 95.16 L262.43 95.18 L263.05 95.21 L263.66 95.23 L264.27 95.25 L264.88 95.27 L265.50 95.29 L266.11 95.31 L266.72 95.33 L267.33 95.35 L267.95 95.36 L268.56 95.38 L269.17 95.39 L269.79 95.40 L270.40 95.41 L271.01 95.42 L271.62 95.43 L272.24 95.44 L272.85 95.44 L273.46 95.45 L274.07 95.45 L274.69 95.45 L275.30 95.45 L275.91 95.45 L276.52 95.45 L277.14 95.44 L277.75 95.44 L278.36 95.43 L278.97 95.42 L279.59 95.41 L280.20 95.40 L280.81 95.38 L281.43 95.37 L282.04 95.35 L282.65 95.34 L283.26 95.32 L283.88 95.29 L284.49 95.27 L285.10 95.25 L285.71 95.22 L286.33 95.19 L286.94 95.16 L287.55 95.13 L288.16 95.10 L288.78 95.06 L289.39 95.03 L290.00 94.99 L290.61 94.95 L291.23 94.90 L291.84 94.86 L292.45 94.81 L293.07 94.76 L293.68 94.71 L294.29 94.66 L294.90 94.61 L295.52 94.55 L296.13 94.49 L296.74 94.43 L297.35 94.37 L297.97 94.30 L298.58 94.23 L299.19 94.16 L299.80 94.09 L300.42 94.02 L301.03 93.94 L301.64 93.86 L302.25 93.78 L302.87 93.69 L303.48 93.61 L304.09 93.52 L304.71 93.42 L305.32 93.33 L305.93 93.23 L306.54 93.13 L307.16 93.03 L307.77 92.92 L308.38 92.81 L308.99 92.70 L309.61 92.59 L310.22 92.47 L310.83 92.35 L311.44 92.23 L312.06 92.10 L312.67 91.97 L313.28 91.83 L313.89 91.70 L314.51 91.56 L315.12 91.41 L315.73 91.27 L316.35 91.12 L316.96 90.96 L317.57 90.81 L318.18 90.64 L318.80 90.48 L319.41 90.31 L320.02 90.14 L320.63 89.96 L321.25 89.78 L321.86 89.60 L322.47 89.41 L323.08 89.21 L323.70 89.02 L324.31 88.81 L324.92 88.61 L325.53 88.40 L326.15 88.18 L326.76 87.96 L327.37 87.73 L327.99 87.50 L328.60 87.27 L329.21 87.03 L329.82 86.78 L330.44 86.53 L331.05 86.27 L331.66 86.01 L332.27 85.74 L332.89 85.47 L333.50 85.19 L334.11 84.91 L334.72 84.61 L335.34 84.32 L335.95 84.01 L336.56 83.70 L337.17 83.38 L337.79 83.06 L338.40 82.73 L339.01 82.39 L339.62 82.05 L340.01 81.83 L340.39 81.60 L340.77 81.38 L341.15 81.15 L341.54 80.92 L341.92 80.69 L342.30 80.45 L342.68 80.21 L343.05 79.97 L343.42 79.73 L343.78 79.49 L344.15 79.25 L344.52 79.00 L344.89 78.75 L345.26 78.50 L345.61 78.25 L345.96 78.00 L346.32 77.75 L346.67 77.49 L347.02 77.23 L347.38 76.97 L347.73 76.70 L348.09 76.43 L348.43 76.17 L348.76 75.91 L349.10 75.64 L349.44 75.37 L349.78 75.09 L350.12 74.81 L350.46 74.53 L350.80 74.24 L351.13 73.97 L351.45 73.69 L351.78 73.40 L352.10 73.12 L352.43 72.83 L352.75 72.53 L353.08 72.24 L353.41 71.94 L353.72 71.65 L354.03 71.35 L354.34 71.05 L354.65 70.75 L354.96 70.45 L355.27 70.14 L355.58 69.83 L355.90 69.51 L356.19 69.21 L356.49 68.90 L356.79 68.59 L357.08 68.28 L357.38 67.96 L357.68 67.64 L357.98 67.31 L358.27 66.99 L358.57 66.65 L358.85 66.33 L359.14 66.01 L359.42 65.69 L359.70 65.36 L359.98 65.02 L360.27 64.69 L360.55 64.34 L360.83 64.00 L361.12 63.65 L361.38 63.32 L361.65 62.98 L361.92 62.64 L362.19 62.30 L362.46 61.95 L362.73 61.60 L363.00 61.25 L363.27 60.89 L363.54 60.53 L363.80 60.16 L364.06 59.82 L364.31 59.46 L364.57 59.11 L364.82 58.75 L365.08 58.39 L365.33 58.02 L365.59 57.66 L365.84 57.28 L366.10 56.91 L366.35 56.53 L366.59 56.17 L366.83 55.81 L367.07 55.44 L367.31 55.07 L367.55 54.70 L367.79 54.32 L368.03 53.94 L368.28 53.56 L368.52 53.18 L368.76 52.79 L369.00 52.40 L369.24 52.01 L369.48 51.61 L369.70 51.24 L369.93 50.86 L370.16 50.48 L370.38 50.09 L370.61 49.71 L370.84 49.32 L371.06 48.93 L371.29 48.54 L371.52 48.15 L371.74 47.75 L371.97 47.35 L372.19 46.95 L372.42 46.55 L372.65 46.14 L372.87 45.74 L373.10 45.33 L373.33 44.92 L373.55 44.51 L373.78 44.10 L374.01 43.69 L374.23 43.27 L374.44 42.88 L374.66 42.50 L374.87 42.11 L375.08 41.72 L375.29 41.33 L375.50 40.94 L375.72 40.55 L375.93 40.16 L376.14 39.77 L376.37 39.36 L376.59 38.95 L376.82 38.54 L377.05 38.13 L377.27 37.73 L377.50 37.32 L377.73 36.92 L377.95 36.53 L378.18 36.13 L378.41 35.75 L378.63 35.36 L378.86 34.98 L379.10 34.59 L379.34 34.20 L379.58 33.82 L379.82 33.45 L380.06 33.08 L380.32 32.71 L380.57 32.35 L380.82 32.00 L381.09 31.64 L381.36 31.30 L381.65 30.96 L381.93 30.64 L382.23 30.33 L382.54 30.03 L382.86 29.75 L383.22 29.48 L383.58 29.24 L383.99 29.03 L384.45 28.88 L384.97 28.79 L385.55 28.83 L386.03 28.96 L386.46 29.16 L386.84 29.40 L387.18 29.66 L387.50 29.96 L387.80 30.27 L388.08 30.60 L388.35 30.94 L388.61 31.29 L388.86 31.66 L389.10 32.03 L389.34 32.42 L389.57 32.80 L389.79 33.21 L390.01 33.60 L390.22 34.00 L390.43 34.42 L390.64 34.85 L390.84 35.26 L391.04 35.69 L391.24 36.12 L391.44 36.56 L391.62 36.98 L391.80 37.40 L391.99 37.83 L392.17 38.27 L392.36 38.72 L392.54 39.17 L392.72 39.62 L392.91 40.08 L393.09 40.55 L393.26 40.98 L393.43 41.42 L393.60 41.86 L393.77 42.31 L393.94 42.75 L394.11 43.21 L394.28 43.66 L394.45 44.12 L394.62 44.57 L394.79 45.03 L394.96 45.50 L395.13 45.96 L395.30 46.43 L395.47 46.90 L395.64 47.36 L395.81 47.84 L395.98 48.31 L396.15 48.78 L396.32 49.25 L396.49 49.73 L396.66 50.20 L396.83 50.67 L397.00 51.15 L397.17 51.63 L397.34 52.10 L397.51 52.58 L397.68 53.05 L397.84 53.53 L398.01 54.00 L398.18 54.48 L398.35 54.95 L398.52 55.43 L398.69 55.90 L398.86 56.37 L399.03 56.84 L399.20 57.32 L399.37 57.79 L399.54 58.26 L399.71 58.73 L399.88 59.20 L400.05 59.66 L400.22 60.13 L400.39 60.59 L400.56 61.06 L400.73 61.52 L400.90 61.98 L401.07 62.44 L401.24 62.90 L401.41 63.36 L401.58 63.82 L401.75 64.28 L401.92 64.73 L402.09 65.18 L402.26 65.64 L402.43 66.09 L402.60 66.54 L402.77 66.98 L402.94 67.43 L403.11 67.87 L403.28 68.32 L403.45 68.76 L403.62 69.20 L403.79 69.64 L403.96 70.08 L404.13 70.51 L404.30 70.95 L404.47 71.38 L404.64 71.81 L404.81 72.25 L404.99 72.71 L405.17 73.17 L405.36 73.63 L405.54 74.09 L405.73 74.55 L405.91 75.01 L406.09 75.46 L406.28 75.91 L406.46 76.36 L406.64 76.81 L406.83 77.26 L407.01 77.70 L407.20 78.15 L407.38 78.59 L407.56 79.03 L407.75 79.47 L407.93 79.90 L408.12 80.34 L408.30 80.77 L408.48 81.20 L408.67 81.63 L408.85 82.06 L409.04 82.49 L409.22 82.91 L409.40 83.34 L409.59 83.76 L409.77 84.18 L409.96 84.60 L410.14 85.01 L410.34 85.46 L410.54 85.90 L410.73 86.35 L410.93 86.79 L411.13 87.23 L411.33 87.67 L411.53 88.10 L411.72 88.54 L411.92 88.97 L412.12 89.40 L412.32 89.83 L412.52 90.25 L412.71 90.68 L412.91 91.10 L413.11 91.53 L413.31 91.95 L413.51 92.36 L413.70 92.78 L413.90 93.20 L414.10 93.61 L414.30 94.02 L414.50 94.43 L414.70 94.84 L414.89 95.25 L415.09 95.65 L415.29 96.06 L415.49 96.46 L415.70 96.89 L415.91 97.32 L416.12 97.74 L416.34 98.17 L416.55 98.59 L416.76 99.01 L416.97 99.43 L417.19 99.85 L417.40 100.26 L417.61 100.68 L417.82 101.09 L418.03 101.50 L418.25 101.91 L418.46 102.32 L418.67 102.72 L418.88 103.13 L419.10 103.53 L419.31 103.93 L419.52 104.33 L419.73 104.73 L419.94 105.13 L420.16 105.52 L420.37 105.92 L420.58 106.31 L420.79 106.70 L421.01 107.09 L421.22 107.48 L421.44 107.89 L421.67 108.30 L421.90 108.71 L422.12 109.12 L422.35 109.53 L422.58 109.93 L422.80 110.34 L423.03 110.74 L423.25 111.14 L423.48 111.54 L423.71 111.94 L423.93 112.33 L424.16 112.73 L424.39 113.12 L424.50 113.31" stroke="#ff00ff" stroke-dasharray="1.5 1.9"/>
<path d="M85.00 219.96 L85.03 134.53 L85.05 125.60 L85.08 120.39 L85.10 116.68 L85.13 113.82 L85.15 111.47 L85.18 109.49 L85.20 107.78 L85.23 106.27 L85.26 104.92 L85.28 103.70 L85.31 102.58 L85.33 101.56 L85.36 100.61 L85.38 99.73 L85.41 98.91 L85.43 98.13 L85.46 97.41 L85.49 96.72 L85.51 96.06 L85.54 95.44 L85.56 94.85 L85.61 93.75 L85.66 92.73 L85.71 91.79 L85.77 90.92 L85.82 90.10 L85.87 89.34 L85.92 88.62 L85.97 87.94 L86.02 87.29 L86.07 86.68 L86.12 86.10 L86.17 85.54 L86.25 84.75 L86.33 84.01 L86.40 83.31 L86.48 82.65 L86.56 82.03 L86.63 81.43 L86.71 80.87 L86.79 80.33 L86.89 79.65 L86.99 79.00 L87.09 78.39 L87.20 77.81 L87.30 77.26 L87.40 76.73 L87.50 76.23 L87.63 75.63 L87.76 75.06 L87.88 74.52 L88.01 74.00 L88.14 73.51 L88.29 72.94 L88.45 72.41 L88.60 71.90 L88.75 71.41 L88.91 70.94 L89.08 70.43 L89.26 69.93 L89.44 69.46 L89.62 69.01 L89.80 68.58 L90.00 68.11 L90.21 67.66 L90.41 67.23 L90.62 66.82 L90.85 66.38 L91.08 65.96 L91.31 65.56 L91.53 65.17 L91.79 64.76 L92.05 64.37 L92.30 63.99 L92.56 63.63 L92.81 63.29 L93.09 62.92 L93.37 62.58 L93.65 62.24 L93.93 61.92 L94.24 61.59 L94.55 61.27 L94.85 60.96 L95.16 60.67 L95.80 60.09 L96.41 59.58 L97.02 59.10 L97.64 58.66 L98.25 58.25 L98.86 57.87 L99.47 57.51 L100.09 57.17 L100.70 56.86 L101.31 56.56 L101.92 56.28 L102.54 56.02 L103.15 55.78 L103.76 55.55 L104.37 55.33 L104.99 55.12 L105.60 54.93 L106.21 54.75 L106.83 54.58 L107.44 54.42 L108.05 54.27 L108.66 54.12 L109.28 53.99 L109.89 53.86 L110.50 53.74 L111.11 53.63 L111.73 53.53 L112.34 53.43 L112.95 53.34 L113.56 53.25 L114.18 53.17 L114.79 53.10 L115.40 53.03 L116.01 52.96 L116.63 52.91 L117.24 52.85 L117.85 52.80 L118.47 52.75 L119.08 52.71 L119.69 52.67 L120.30 52.64 L120.92 52.61 L121.53 52.58 L122.14 52.56 L122.75 52.54 L123.37 52.52 L123.98 52.50 L124.59 52.49 L125.20 52.48 L125.82 52.48 L126.43 52.47 L127.04 52.47 L127.65 52.48 L128.27 52.48 L128.88 52.49 L129.49 52.49 L130.11 52.51 L130.72 52.52 L131.33 52.53 L131.94 52.55 L132.56 52.57 L133.17 52.59 L133.78 52.61 L134.39 52.64 L135.01 52.66 L135.62 52.69 L136.23 52.72 L136.84 52.75 L137.46 52.79 L138.07 52.82 L138.68 52.86 L139.29 52.89 L139.91 52.93 L140.52 52.97 L141.13 53.01 L141.75 53.05 L142.36 53.10 L142.97 53.14 L143.58 53.19 L144.20 53.23 L144.81 53.28 L145.42 53.33 L146.03 53.38 L146.65 53.43 L147.26 53.49 L147.87 53.54 L148.48 53.59 L149.10 53.65 L149.71 53.70 L150.32 53.76 L150.93 53.82 L151.55 53.88 L152.16 53.94 L152.77 53.99 L153.38 54.06 L154.00 54.12 L154.61 54.18 L155.22 54.24 L155.84 54.31 L156.45 54.37 L157.06 54.43 L157.67 54.50 L158.29 54.57 L158.90 54.63 L159.51 54.70 L160.12 54.77 L160.74 54.84 L161.35 54.90 L161.96 54.97 L162.57 55.04 L163.19 55.11 L163.80 55.18 L164.41 55.25 L165.03 55.33 L165.64 55.40 L166.25 55.47 L166.86 55.54 L167.48 55.62 L168.09 55.69 L168.70 55.76 L169.31 55.84 L169.93 55.91 L170.54 55.99 L171.15 56.06 L171.76 56.14 L172.38 56.21 L172.99 56.29 L173.60 56.37 L174.21 56.44 L174.83 56.52 L175.44 56.60 L176.05 56.67 L176.67 56.75 L177.28 56.83 L177.89 56.91 L178.50 56.98 L179.12 57.06 L179.73 57.14 L180.34 57.22 L180.95 57.30 L181.57 57.38 L182.18 57.46 L182.79 57.54 L183.40 57.61 L184.02 57.69 L184.63 57.77 L185.24 57.85 L185.85 57.93 L186.47 58.01 L187.08 58.09 L187.69 58.17 L188.31 58.25 L188.92 58.33 L189.53 58.41 L190.14 58.49 L190.76 58.57 L191.37 58.65 L191.98 58.73 L192.59 58.81 L193.21 58.89 L193.82 58.97 L194.43 59.05 L195.04 59.13 L195.66 59.21 L196.27 59.29 L196.88 59.37 L197.49 59.45 L198.11 59.53 L198.72 59.61 L199.33 59.69 L199.94 59.77 L200.56 59.85 L201.17 59.93 L201.78 60.01 L202.40 60.08 L203.01 60.16 L203.62 60.24 L204.23 60.32 L204.85 60.40 L205.46 60.48 L206.07 60.56 L206.68 60.63 L207.30 60.71 L207.91 60.79 L208.52 60.87 L209.13 60.94 L209.75 61.02 L210.36 61.10 L210.97 61.18 L211.59 61.25 L212.20 61.33 L212.81 61.40 L213.42 61.48 L214.04 61.56 L214.65 61.63 L215.26 61.71 L215.87 61.78 L216.49 61.86 L217.10 61.93 L217.71 62.01 L218.32 62.08 L218.94 62.15 L219.55 62.23 L220.16 62.30 L220.77 62.37 L221.39 62.44 L222.00 62.52 L222.61 62.59 L223.23 62.66 L223.84 62.73 L224.45 62.80 L225.06 62.87 L225.68 62.94 L226.29 63.01 L226.90 63.08 L227.51 63.15 L228.13 63.22 L228.74 63.29 L229.35 63.36 L229.96 63.42 L230.58 63.49 L231.19 63.56 L231.80 63.62 L232.41 63.69 L233.03 63.76 L233.64 63.82 L234.25 63.89 L234.87 63.95 L235.48 64.01 L236.09 64.08 L236.70 64.14 L237.32 64.20 L237.93 64.26 L238.54 64.33 L239.15 64.39 L239.77 64.45 L240.38 64.51 L240.99 64.57 L241.60 64.63 L242.22 64.68 L242.83 64.74 L243.44 64.80 L244.05 64.86 L244.67 64.91 L245.28 64.97 L245.89 65.02 L246.51 65.08 L247.12 65.13 L247.73 65.19 L248.34 65.24 L248.96 65.29 L249.57 65.34 L250.18 65.40 L250.79 65.45 L251.41 65.50 L252.02 65.54 L252.63 65.59 L253.24 65.64 L253.86 65.69 L254.47 65.74 L255.08 65.78 L255.69 65.83 L256.31 65.87 L256.92 65.92 L257.53 65.96 L258.15 66.00 L258.76 66.04 L259.37 66.08 L259.98 66.13 L260.60 66.16 L261.21 66.20 L261.82 66.24 L262.43 66.28 L263.05 66.32 L263.66 66.35 L264.27 66.39 L264.88 66.42 L265.50 66.45 L266.11 66.49 L266.72 66.52 L267.33 66.55 L267.95 66.58 L268.56 66.61 L269.17 66.64 L269.79 66.67 L270.40 66.69 L271.01 66.72 L271.62 66.74 L272.24 66.77 L272.85 66.79 L273.46 66.81 L274.07 66.83 L274.69 66.85 L275.30 66.87 L275.91 66.89 L276.52 66.91 L277.14 66.93 L277.75 66.94 L278.36 66.95 L278.97 66.97 L279.59 66.98 L280.20 66.99 L280.81 67.00 L281.43 67.01 L282.04 67.02 L282.65 67.03 L283.26 67.03 L283.88 67.04 L284.49 67.04 L285.10 67.04 L285.71 67.04 L286.33 67.04 L286.94 67.04 L287.55 67.04 L288.16 67.04 L288.78 67.03 L289.39 67.02 L290.00 67.02 L290.61 67.01 L291.23 67.00 L291.84 66.99 L292.45 66.97 L293.07 66.96 L293.68 66.95 L294.29 66.93 L294.90 66.91 L295.52 66.89 L296.13 66.87 L296.74 66.85 L297.35 66.83 L297.97 66.80 L298.58 66.77 L299.19 66.75 L299.80 66.72 L300.42 66.69 L301.03 66.65 L301.64 66.62 L302.25 66.58 L302.87 66.55 L303.48 66.51 L304.09 66.47 L304.71 66.42 L305.32 66.38 L305.93 66.33 L306.54 66.29 L307.16 66.24 L307.77 66.19 L308.38 66.13 L308.99 66.08 L309.61 66.02 L310.22 65.97 L310.83 65.91 L311.44 65.84 L312.06 65.78 L312.67 65.71 L313.28 65.65 L313.89 65.58 L314.51 65.51 L315.12 65.43 L315.73 65.36 L316.35 65.28 L316.96 65.20 L317.57 65.12 L318.18 65.03 L318.80 64.95 L319.41 64.86 L320.02 64.77 L320.63 64.67 L321.25 64.58 L321.86 64.48 L322.47 64.38 L323.08 64.28 L323.70 64.17 L324.31 64.07 L324.92 63.96 L325.53 63.84 L326.15 63.73 L326.76 63.61 L327.37 63.49 L327.99 63.37 L328.60 63.24 L329.21 63.11 L329.82 62.98 L330.44 62.85 L331.05 62.71 L331.66 62.57 L332.27 62.43 L332.89 62.29 L333.50 62.14 L334.11 61.99 L334.72 61.83 L335.34 61.67 L335.95 61.51 L336.56 61.35 L337.17 61.18 L337.79 61.01 L338.40 60.84 L339.01 60.66 L339.62 60.48 L340.09 60.34 L340.56 60.20 L341.03 60.05 L341.49 59.91 L341.96 59.76 L342.43 59.61 L342.88 59.46 L343.33 59.31 L343.78 59.16 L344.24 59.01 L344.69 58.85 L345.14 58.69 L345.60 58.53 L346.05 58.37 L346.50 58.20 L346.94 58.04 L347.38 57.88 L347.82 57.71 L348.26 57.54 L348.69 57.37 L349.13 57.20 L349.57 57.03 L350.01 56.85 L350.45 56.67 L350.89 56.49 L351.31 56.31 L351.74 56.13 L352.16 55.95 L352.58 55.77 L353.01 55.58 L353.43 55.39 L353.86 55.20 L354.28 55.01 L354.71 54.81 L355.12 54.62 L355.53 54.43 L355.94 54.23 L356.35 54.04 L356.76 53.84 L357.17 53.64 L357.58 53.43 L357.99 53.22 L358.40 53.02 L358.81 52.81 L359.21 52.60 L359.60 52.39 L360.00 52.18 L360.39 51.97 L360.79 51.75 L361.19 51.54 L361.58 51.32 L361.98 51.10 L362.38 50.88 L362.77 50.65 L363.15 50.43 L363.54 50.21 L363.92 49.98 L364.30 49.76 L364.68 49.53 L365.06 49.30 L365.45 49.07 L365.83 48.83 L366.21 48.60 L366.59 48.36 L366.97 48.12 L367.34 47.88 L367.71 47.65 L368.08 47.41 L368.44 47.17 L368.81 46.93 L369.18 46.69 L369.55 46.44 L369.92 46.19 L370.28 45.94 L370.65 45.69 L371.02 45.44 L371.39 45.19 L371.74 44.94 L372.10 44.69 L372.45 44.44 L372.80 44.19 L373.16 43.94 L373.51 43.68 L373.86 43.43 L374.22 43.17 L374.57 42.91 L374.92 42.65 L375.28 42.39 L375.63 42.12 L375.99 41.86 L376.34 41.59 L376.69 41.32 L377.05 41.06 L377.40 40.79 L377.75 40.52 L378.11 40.25 L378.45 39.98 L378.79 39.72 L379.13 39.46 L379.47 39.20 L379.81 38.93 L380.15 38.67 L380.48 38.40 L380.82 38.14 L381.16 37.88 L381.50 37.61 L381.84 37.35 L382.18 37.08 L382.52 36.82 L382.86 36.56 L383.20 36.29 L383.54 36.03 L383.88 35.77 L384.23 35.50 L384.59 35.23 L384.94 34.96 L385.30 34.69 L385.65 34.43 L386.00 34.17 L386.36 33.91 L386.71 33.65 L387.06 33.39 L387.42 33.14 L387.77 32.89 L388.14 32.64 L388.51 32.39 L388.87 32.14 L389.24 31.90 L389.61 31.67 L389.99 31.43 L390.37 31.20 L390.76 30.97 L391.14 30.75 L391.53 30.53 L391.93 30.32 L392.34 30.11 L392.75 29.92 L393.18 29.72 L393.60 29.54 L394.04 29.37 L394.49 29.21 L394.94 29.06 L395.41 28.92 L395.91 28.80 L396.42 28.70 L396.94 28.62 L397.49 28.56 L398.07 28.54 L398.31 28.16 L398.89 28.19 L399.44 28.24 L399.97 28.33 L400.46 28.44 L400.94 28.57 L401.40 28.72 L401.83 28.88 L402.26 29.07 L402.67 29.26 L403.07 29.47 L403.45 29.69 L403.83 29.93 L404.20 30.17 L404.55 30.42 L404.90 30.68 L405.24 30.95 L405.58 31.22 L405.91 31.50 L406.23 31.79 L406.56 32.09 L406.87 32.39 L407.18 32.70 L407.49 33.01 L407.79 33.32 L408.09 33.64 L408.39 33.97 L408.67 34.29 L408.95 34.62 L409.23 34.95 L409.52 35.29 L409.80 35.64 L410.07 35.98 L410.34 36.32 L410.61 36.67 L410.88 37.02 L411.14 37.37 L411.41 37.74 L411.67 38.08 L411.92 38.44 L412.18 38.79 L412.43 39.15 L412.69 39.51 L412.94 39.88 L413.20 40.25 L413.45 40.63 L413.70 41.00 L413.96 41.38 L414.20 41.75 L414.44 42.11 L414.68 42.48 L414.92 42.85 L415.16 43.22 L415.40 43.59 L415.64 43.97 L415.88 44.35 L416.12 44.73 L416.36 45.11 L416.61 45.50 L416.85 45.88 L417.09 46.27 L417.33 46.66 L417.57 47.05 L417.81 47.44 L418.05 47.83 L418.29 48.22 L418.53 48.62 L418.77 49.02 L419.01 49.41 L419.24 49.79 L419.46 50.16 L419.69 50.54 L419.92 50.91 L420.14 51.29 L420.37 51.67 L420.60 52.05 L420.82 52.43 L421.05 52.80 L421.27 53.18 L421.50 53.56 L421.73 53.94 L421.95 54.32 L422.18 54.70 L422.41 55.08 L422.63 55.46 L422.86 55.85 L423.09 56.23 L423.31 56.61 L423.54 56.99 L423.76 57.37 L423.99 57.75 L424.22 58.13 L424.44 58.51 L424.50 58.60" stroke="#00ffff" stroke-dasharray="8.2 2.7 1.5 2.7"/>
</g>
<path d="M85.00 266.90 v-3.2 M85.00 29.30 v3.2 M152.90 266.90 v-3.2 M152.90 29.30 v3.2 M220.80 266.90 v-3.2 M220.80 29.30 v3.2 M288.70 266.90 v-3.2 M288.70 29.30 v3.2 M356.60 266.90 v-3.2 M356.60 29.30 v3.2 M424.50 266.90 v-3.2 M424.50 29.30 v3.2 M85.00 29.30 h3.2 M424.50 29.30 h-3.2 M85.00 88.70 h3.2 M424.50 88.70 h-3.2 M85.00 148.10 h3.2 M424.50 148.10 h-3.2 M85.00 207.50 h3.2 M424.50 207.50 h-3.2 M85.00 266.90 h3.2 M424.50 266.90 h-3.2" stroke="#000" stroke-width="1.6" fill="none"/>
<path d="M85.00 70.82 h1.9 M424.50 70.82 h-1.9 M85.00 60.36 h1.9 M424.50 60.36 h-1.9 M85.00 52.94 h1.9 M424.50 52.94 h-1.9 M85.00 47.18 h1.9 M424.50 47.18 h-1.9 M85.00 42.48 h1.9 M424.50 42.48 h-1.9 M85.00 38.50 h1.9 M424.50 38.50 h-1.9 M85.00 35.06 h1.9 M424.50 35.06 h-1.9 M85.00 32.02 h1.9 M424.50 32.02 h-1.9 M85.00 130.22 h1.9 M424.50 130.22 h-1.9 M85.00 119.76 h1.9 M424.50 119.76 h-1.9 M85.00 112.34 h1.9 M424.50 112.34 h-1.9 M85.00 106.58 h1.9 M424.50 106.58 h-1.9 M85.00 101.88 h1.9 M424.50 101.88 h-1.9 M85.00 97.90 h1.9 M424.50 97.90 h-1.9 M85.00 94.46 h1.9 M424.50 94.46 h-1.9 M85.00 91.42 h1.9 M424.50 91.42 h-1.9 M85.00 189.62 h1.9 M424.50 189.62 h-1.9 M85.00 179.16 h1.9 M424.50 179.16 h-1.9 M85.00 171.74 h1.9 M424.50 171.74 h-1.9 M85.00 165.98 h1.9 M424.50 165.98 h-1.9 M85.00 161.28 h1.9 M424.50 161.28 h-1.9 M85.00 157.30 h1.9 M424.50 157.30 h-1.9 M85.00 153.86 h1.9 M424.50 153.86 h-1.9 M85.00 150.82 h1.9 M424.50 150.82 h-1.9 M85.00 249.02 h1.9 M424.50 249.02 h-1.9 M85.00 238.56 h1.9 M424.50 238.56 h-1.9 M85.00 231.14 h1.9 M424.50 231.14 h-1.9 M85.00 225.38 h1.9 M424.50 225.38 h-1.9 M85.00 220.68 h1.9 M424.50 220.68 h-1.9 M85.00 216.70 h1.9 M424.50 216.70 h-1.9 M85.00 213.26 h1.9 M424.50 213.26 h-1.9 M85.00 210.22 h1.9 M424.50 210.22 h-1.9" stroke="#000" stroke-width="1.2" fill="none"/>
<rect x="85.00" y="29.30" width="339.50" height="237.60" fill="none" stroke="#000" stroke-width="2"/>
<text x="87.40" y="290.3" font-size="17.50" text-anchor="middle">0</text>
<text x="155.30" y="290.3" font-size="17.50" text-anchor="middle">2</text>
<text x="223.20" y="290.3" font-size="17.50" text-anchor="middle">4</text>
<text x="291.10" y="290.3" font-size="17.50" text-anchor="middle">6</text>
<text x="359.00" y="290.3" font-size="17.50" text-anchor="middle">8</text>
<text x="426.90" y="290.3" font-size="17.50" text-anchor="middle">10</text>
<text x="73.8" y="37.10" font-size="17.50" text-anchor="end">10<tspan font-size="13.30" dy="-9.4">0</tspan></text>
<text x="73.8" y="96.50" font-size="17.50" text-anchor="end">10<tspan font-size="13.30" dy="-9.4">-1</tspan></text>
<text x="73.8" y="155.90" font-size="17.50" text-anchor="end">10<tspan font-size="13.30" dy="-9.4">-2</tspan></text>
<text x="73.8" y="215.30" font-size="17.50" text-anchor="end">10<tspan font-size="13.30" dy="-9.4">-3</tspan></text>
<text x="73.8" y="274.70" font-size="17.50" text-anchor="end">10<tspan font-size="13.30" dy="-9.4">-4</tspan></text>
<text x="254.2" y="317.5" font-size="17.50" text-anchor="middle">s [GeV<tspan font-size="13.30" dy="-9.0">2</tspan><tspan dy="9.0">]</tspan></text>
<text transform="translate(33.4 147.2) rotate(-90)" font-size="17.50" text-anchor="middle">exp(-s/M<tspan font-size="13.30" dy="-9.0">2</tspan><tspan dy="9.0">)Im</tspan><tspan class="sym" font-size="19.6">Π</tspan>(s) [GeV<tspan font-size="13.30" dy="-9.0">2</tspan><tspan dy="9.0">]</tspan></text>
<text x="297.8" y="191.80" font-size="9.55" text-anchor="end">T=1.07T<tspan font-size="7.30" dy="3.5">c</tspan><tspan dy="-3.5">, m=2.87 GeV, </tspan><tspan class="sym">Γ</tspan>=1 MeV, M<tspan font-size="7.30" dy="-3.8">2</tspan><tspan dy="3.8">=1.01 GeV</tspan><tspan font-size="7.30" dy="-3.8">2</tspan></text>
<line x1="308" y1="187.00" x2="329.5" y2="187.00" stroke="#ff0000" stroke-width="1.7"/>
<text x="297.8" y="207.10" font-size="9.55" text-anchor="end">m=2.89 GeV, <tspan class="sym">Γ</tspan>=20 MeV, M<tspan font-size="7.30" dy="-3.8">2</tspan><tspan dy="3.8">=1.18 GeV</tspan><tspan font-size="7.30" dy="-3.8">2</tspan></text>
<line x1="308" y1="202.30" x2="329.5" y2="202.30" stroke="#00ff00" stroke-width="1.7" stroke-dasharray="5.5 2.7"/>
<text x="297.8" y="222.40" font-size="9.55" text-anchor="end">m=2.93 GeV, <tspan class="sym">Γ</tspan>=64 MeV, M<tspan font-size="7.30" dy="-3.8">2</tspan><tspan dy="3.8">=1.32 GeV</tspan><tspan font-size="7.30" dy="-3.8">2</tspan></text>
<line x1="308" y1="217.60" x2="329.5" y2="217.60" stroke="#0000ff" stroke-width="1.7" stroke-dasharray="3.0 3.8"/>
<text x="297.8" y="237.70" font-size="9.55" text-anchor="end">m=2.98 GeV, <tspan class="sym">Γ</tspan>=110 MeV, M<tspan font-size="7.30" dy="-3.8">2</tspan><tspan dy="3.8">=1.45 GeV</tspan><tspan font-size="7.30" dy="-3.8">2</tspan></text>
<line x1="308" y1="232.90" x2="329.5" y2="232.90" stroke="#ff00ff" stroke-width="1.7" stroke-dasharray="1.5 1.9"/>
<text x="297.8" y="253.00" font-size="9.55" text-anchor="end">m=3.06 GeV, <tspan class="sym">Γ</tspan>=202 MeV, M<tspan font-size="7.30" dy="-3.8">2</tspan><tspan dy="3.8">=1.55 GeV</tspan><tspan font-size="7.30" dy="-3.8">2</tspan></text>
<line x1="308" y1="248.20" x2="329.5" y2="248.20" stroke="#00ffff" stroke-width="1.7" stroke-dasharray="8.2 2.7 1.5 2.7"/>
</svg>
</body></html>
